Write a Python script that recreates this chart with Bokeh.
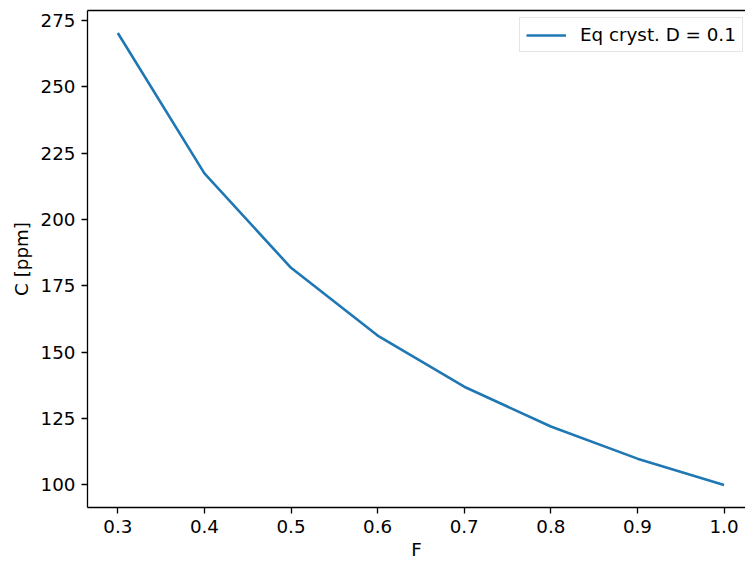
from bokeh.plotting import figure
from bokeh.models import Range1d, FixedTicker, Legend, LegendItem, LinearAxis
from bokeh.embed import file_html
from bokeh.resources import INLINE

F = [0.3, 0.4, 0.5, 0.6, 0.7, 0.8, 0.9, 1.0]
C = [270.3, 217.4, 181.8, 156.3, 137.0, 122.0, 109.9, 100.0]
label = "Eq cryst. D = 0.1"
x_ticks = [0.3, 0.4, 0.5, 0.6, 0.7, 0.8, 0.9, 1.0]
y_ticks = [100, 125, 150, 175, 200, 225, 250, 275]

FONT = "DejaVu Sans"
FS = "18.3px"

p = figure(width=745, height=563, output_backend="svg", toolbar_location=None,
           x_range=Range1d(0.265, 1.0248), y_range=Range1d(91.49, 278.78),
           min_border_left=87, min_border_right=0, min_border_top=10, min_border_bottom=56)
p.outline_line_color = None
p.xgrid.visible = False
p.ygrid.visible = False
p.background_fill_color = "white"
p.border_fill_color = "white"

r = p.line(F, C, line_color="#1f77b4", line_width=2.6)

for ax in [p.xaxis[0], p.yaxis[0]]:
    ax.major_tick_in = 0
    ax.major_tick_out = 6
    ax.minor_tick_out = 0
    ax.minor_tick_in = 0
    ax.axis_line_color = "black"
    ax.axis_line_width = 1.3
    ax.major_tick_line_width = 1.3
    ax.major_label_text_font = FONT
    ax.major_label_text_font_size = FS
    ax.major_label_text_color = "black"
    ax.axis_label_text_font = FONT
    ax.axis_label_text_font_size = FS
    ax.axis_label_text_font_style = "normal"
    ax.axis_label_text_color = "black"

p.xaxis.ticker = FixedTicker(ticks=x_ticks)
p.yaxis.ticker = FixedTicker(ticks=y_ticks)
p.xaxis.major_label_overrides = {t: f"{t:.1f}" for t in x_ticks}
p.xaxis.axis_label = "F"
p.yaxis.axis_label = "C [ppm]"
p.xaxis.major_label_standoff = 6
p.yaxis.major_label_standoff = 6
p.xaxis.axis_label_standoff = 3
p.yaxis.axis_label_standoff = 6

top = LinearAxis(major_tick_out=0, major_tick_in=0, minor_tick_out=0, minor_tick_in=0,
                 major_label_text_font_size="0px", major_label_standoff=0,
                 axis_line_color="black", axis_line_width=1.3)
top.ticker = FixedTicker(ticks=[])
p.add_layout(top, "above")

legend = Legend(items=[LegendItem(label=label, renderers=[r])],
                location=(432, 455), label_text_font=FONT, label_text_font_size=FS,
                label_text_color="black",
                border_line_color="#cccccc", border_line_width=1.3,
                glyph_width=40, label_standoff=14, padding=6, margin=0,
                background_fill_alpha=0.8)
p.add_layout(legend, "center")

open("out.html", "w").write(file_html(p, INLINE))
